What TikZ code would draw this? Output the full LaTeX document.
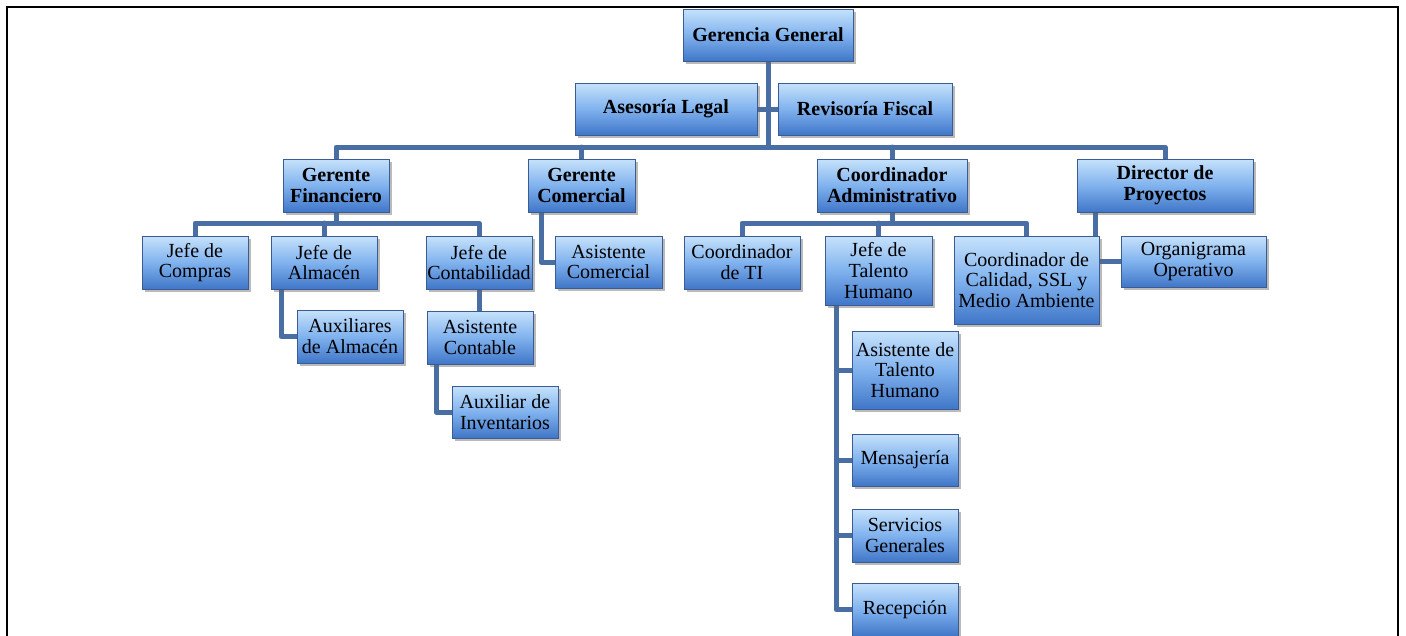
\documentclass[tikz,border=0pt]{standalone}
\usepackage{fontspec}
\setmainfont{Liberation Serif}
\usetikzlibrary{shadows,backgrounds}

\definecolor{linkblue}{RGB}{72,110,164}
\definecolor{boxtop}{RGB}{198,226,251}
\definecolor{boxmid}{RGB}{128,178,238}
\definecolor{boxbot}{RGB}{64,118,200}
\definecolor{boxedge}{RGB}{58,92,146}

\tikzset{
  unit/.style={draw=boxedge, line width=0.7pt,
    top color=boxtop, bottom color=boxbot, middle color=boxmid,
    inner sep=0pt, align=center,
    font=\fontsize{20}{20.7}\selectfont,
    drop shadow={shadow xshift=2.5pt, shadow yshift=-2.5pt, opacity=0.45, fill=black!60}},
  head/.style={unit, font=\fontsize{20}{20.7}\selectfont\bfseries},
  sz/.style 2 args={minimum width=#1pt, minimum height=#2pt},
  link/.style={draw=linkblue, line width=5pt, line join=round, line cap=round},
}

\begin{document}
\begin{tikzpicture}[x=1pt, y=-1pt]
\useasboundingbox (0,0) rectangle (1406,635);

% page frame
\draw[line width=2.5pt] (7,640) -- (7,7) -- (1398,7) -- (1398,640);

% top management
\node[head, sz={170}{52}] (gg)  at (768,35)    {Gerencia General};
\node[head, sz={182}{52}] (al)  at (666,109)   {Asesoría Legal};
\node[head, sz={174}{52}] (rf)  at (865,109)   {Revisoría Fiscal};

% managers
\node[head, sz={106}{53}] (gf)  at (336,185.5)  {Gerente\\Financiero};
\node[head, sz={107}{53}] (gc)  at (581.5,185.5){Gerente\\Comercial};
\node[head, sz={150}{53}] (ca)  at (892,185.5)  {Coordinador\\Administrativo};
\node[head, sz={176}{53}] (dp)  at (1165,185.5) {Director de\\Proyectos};

% finance
\node[unit, sz={106}{53}] (jc)  at (195,262.5)  {Jefe de\\Compras};
\node[unit, sz={106}{53}] (ja)  at (324,262.5)  {Jefe de\\Almacén};
\node[unit, sz={106}{53}] (jco) at (479,262.5)  {Jefe de\\Contabilidad};
\node[unit, sz={106}{53}] (aa)  at (350,336.5)  {Auxiliares\\de Almacén};
\node[unit, sz={106}{53}] (ac)  at (480,337.5)  {Asistente\\Contable};
\node[unit, sz={106}{52}] (ai)  at (505,412)    {Auxiliar de\\Inventarios};

% commercial
\node[unit, sz={107}{52}] (asc) at (608.5,262)  {Asistente\\Comercial};

% administration
\node[unit, sz={116}{53}] (cti) at (742,262.5)  {Coordinador\\de TI};
\node[unit, sz={107}{69}] (jth) at (878.5,270.5){Jefe de\\Talento\\Humano};
\node[unit, sz={145}{88}] (ccal) at (1026.5,280){Coordinador de\\Calidad, SSL y\\Medio Ambiente};
\node[unit, sz={106}{78}] (ath) at (905,370)    {Asistente de\\Talento\\Humano};
\node[unit, sz={106}{52}] (men) at (905,460)    {Mensajería};
\node[unit, sz={106}{53}] (sg)  at (905,535.5)  {Servicios\\Generales};
\node[unit, sz={106}{53}] (rec) at (905,609.5)  {Recepción};

% projects
\node[unit, sz={145}{51}] (oo)  at (1193.5,261.5){Organigrama\\Operativo};

% bus coordinates
\coordinate (busA) at (768,147);
\coordinate (busF) at (336,223);
\coordinate (busC) at (892,223);

\begin{scope}[on background layer]
  % general management
  \draw[link] (gg.south) -- (busA);
  \draw[link] (al.east) -- (rf.west);
  \draw[link] (gf.north) -- (gf.north |- busA) -- (dp.north |- busA) -- (dp.north);
  \draw[link] (gc.north) -- (gc.north |- busA);
  \draw[link] (ca.north) -- (ca.north |- busA);
  % finance
  \draw[link] (gf.south) -- (busF);
  \draw[link] (jc.north) -- (jc.north |- busF) -- (jco.north |- busF) -- (jco.north);
  \draw[link] (ja.north) -- (ja.north |- busF);
  \draw[link] ([xshift=-43pt]ja.south) |- (aa.west);
  \draw[link] (jco.south) -- (jco.south |- ac.north);
  \draw[link] ([xshift=-44pt]ac.south) |- (ai.west);
  % commercial
  \draw[link] ([xshift=-40.5pt]gc.south) |- (asc.west);
  % administration
  \draw[link] (ca.south) -- (busC);
  \draw[link] (cti.north) -- (cti.north |- busC) -- (ccal.north |- busC) -- (ccal.north);
  \draw[link] (jth.north) -- (jth.north |- busC);
  \draw[link] ([xshift=-42.5pt]jth.south) |- (ath.west);
  \draw[link] ([xshift=-42.5pt]jth.south) |- (men.west);
  \draw[link] ([xshift=-42.5pt]jth.south) |- (sg.west);
  \draw[link] ([xshift=-42.5pt]jth.south) |- (rec.west);
  % projects
  \draw[link] ([xshift=-70pt]dp.south) |- (oo.west);
\end{scope}
\end{tikzpicture}
\end{document}
